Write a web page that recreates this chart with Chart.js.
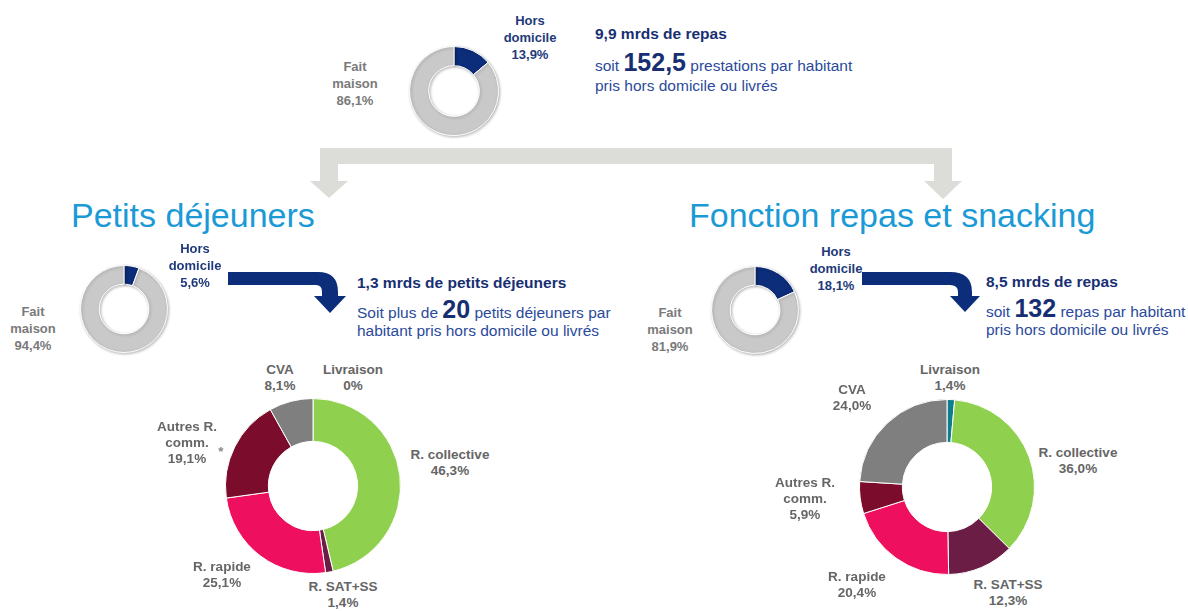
<!DOCTYPE html>
<html lang="fr">
<head>
<meta charset="utf-8">
<title>Repas hors domicile</title>
<script src="https://cdn.jsdelivr.net/npm/chart.js@4.4.0/dist/chart.umd.min.js"></script>
<style>
  body { margin: 0; background: #fff; font-family: "Liberation Sans", Arial, sans-serif; }
  #page { position: relative; width: 1188px; height: 611px; overflow: hidden; background: #fff; }
  #page canvas { position: absolute; }
  svg { position: absolute; left: 0; top: 0; }
  .lbl { position: absolute; transform: translateX(-50%); text-align: center; font-weight: bold; white-space: nowrap; }
  .small { font-size: 13px; line-height: 17px; }
  .seg { font-size: 13.5px; line-height: 16px; }
  .title { position: absolute; font-size: 34px; line-height: 36px; color: #1b9ad6; white-space: nowrap; }
  .txt { position: absolute; font-size: 15.5px; color: #2b4a9b; white-space: nowrap; }
  .txt b { color: #172f72; }
  .big { font-size: 25px; font-weight: bold; color: #172f72; }
</style>
</head>
<body>
<div id="page">
  <svg width="1188" height="611">
    <path d="M320 148 L952 148 L952 181 L962 181 L943 199 L924 181 L934 181 L934 164 L338 164 L338 181 L348 181 L329 198 L310 181 L320 181 Z" fill="#dcdcd8"/>
    <path d="M228 272 L318 272 Q338 272 338 292 L338 296 L346 296 L330 313 L314 296 L322 296 L322 292 Q322 285 316 285 L228 285 Z" fill="#0c2d7a"/>
    <path d="M862 272 L950 272 Q972 272 972 292 L972 296 L980 296 L965 312 L950 296 L958 296 L958 292 Q958 285 950 285 L862 285 Z" fill="#0c2d7a"/>
  </svg>
  <div class="title" style="left:71px; top:197px;">Petits déjeuners</div>
  <div class="title" style="left:689px; top:197px;">Fonction repas et snacking</div>

  <div class="txt" style="left:595px; top:24px; line-height:20px;"><b>9,9 mrds de repas</b></div>
  <div class="txt" style="left:595px; top:47px; line-height:30px;">soit <span class="big">152,5</span> prestations par habitant</div>
  <div class="txt" style="left:595px; top:76px; line-height:20px;">pris hors domicile ou livrés</div>

  <div class="txt" style="left:357px; top:273px; line-height:20px;"><b>1,3 mrds de petits déjeuners</b></div>
  <div class="txt" style="left:357px; top:294px; line-height:30px;">Soit plus de <span class="big">20</span> petits déjeuners par</div>
  <div class="txt" style="left:357px; top:321px; line-height:20px;">habitant pris hors domicile ou livrés</div>

  <div class="txt" style="left:986px; top:272px; line-height:20px;"><b>8,5 mrds de repas</b></div>
  <div class="txt" style="left:986px; top:293px; line-height:30px;">soit <span class="big">132</span> repas par habitant</div>
  <div class="txt" style="left:986px; top:320px; line-height:20px;">pris hors domicile ou livrés</div>
</div>
<script>
// Répartition fait maison / hors domicile
const splitLabels = ['Hors domicile', 'Fait maison'];
const totalValues = [13.9, 86.1];
const petitDejValues = [5.6, 94.4];
const repasValues = [18.1, 81.9];

// Circuits de restauration hors domicile
const circuits = ['Livraison', 'R. collective', 'R. SAT+SS', 'R. rapide', 'Autres R. comm.', 'CVA'];
const circuitLines = [['Livraison'], ['R. collective'], ['R. SAT+SS'], ['R. rapide'], ['Autres R.', 'comm.'], ['CVA']];
const petitDejCircuits = [0, 46.3, 1.4, 25.1, 19.1, 8.1];
const repasCircuits = [1.4, 36.0, 12.3, 20.4, 5.9, 24.0];

const splitColors = ['#0c2d7a', '#c9c9c9'];
const splitTextColors = ['#1f3a7a', '#7a7a7a'];
const circuitColors = ['#0f7e8c', '#8fd14f', '#6b1d45', '#ef0f5f', '#7b0c2c', '#7f7f7f'];

const page = document.getElementById('page');

// petite ombre sous les anneaux gris
const shade = {
    id: 'shade',
    beforeDatasetsDraw(chart) {
        const c = chart.ctx;
        c.save();
        c.shadowColor = 'rgba(0,0,0,0.28)';
        c.shadowBlur = 3;
        c.shadowOffsetX = 1;
        c.shadowOffsetY = 1;
    },
    afterDatasetsDraw(chart) {
        chart.ctx.restore();
    }
};

function pct(v) {
    return v === 0 ? '0%' : v.toFixed(1).replace('.', ',') + '%';
}

function donut(cx, cy, r, cutout, labels, values, colors, pad, plugins) {
    const size = 2 * r + 2 + 2 * pad;
    const canvas = document.createElement('canvas');
    canvas.width = size;
    canvas.height = size;
    canvas.style.left = (cx - size / 2) + 'px';
    canvas.style.top = (cy - size / 2) + 'px';
    page.insertBefore(canvas, page.children[1]);
    new Chart(canvas.getContext('2d'), {
        type: 'doughnut',
        data: {
            labels: labels,
            datasets: [{
                data: values,
                backgroundColor: colors,
                borderColor: '#ffffff',
                borderWidth: 1
            }]
        },
        options: {
            responsive: false,
            animation: false,
            cutout: cutout,
            layout: { padding: pad },
            plugins: {
                legend: { display: false },
                tooltip: { enabled: false }
            }
        },
        plugins: plugins
    });
}

function label(x, top, lines, cls, color) {
    const d = document.createElement('div');
    d.className = 'lbl ' + cls;
    d.style.left = x + 'px';
    d.style.top = top + 'px';
    d.style.color = color;
    d.innerHTML = lines.join('<br>');
    page.appendChild(d);
}

// donuts fait maison / hors domicile
donut(454, 91, 44, '57%', splitLabels, totalValues, splitColors, 3, [shade]);
donut(124, 309, 43, '57%', splitLabels, petitDejValues, splitColors, 3, [shade]);
donut(755, 310, 43, '57%', splitLabels, repasValues, splitColors, 3, [shade]);

const splitSpots = [
    [[530, 11.5], [355, 57.5]],
    [[195, 239.5], [33, 302.5]],
    [[836, 242.5], [670, 303.5]]
];
[totalValues, petitDejValues, repasValues].forEach((vals, i) => {
    splitLabels.forEach((name, j) => {
        const words = name.split(' ');
        label(splitSpots[i][j][0], splitSpots[i][j][1], [words[0], words[1], pct(vals[j])], 'small', splitTextColors[j]);
    });
});

// donuts circuits
donut(313, 486, 87, '51%', circuits, petitDejCircuits, circuitColors, 0, []);
donut(947, 487, 87, '51%', circuits, repasCircuits, circuitColors, 0, []);

const petitDejSpots = [[353, 362], [450, 447], [343, 579], [222, 559], [187, 419], [280, 362]];
const repasSpots = [[950, 362], [1078, 445], [1008, 577], [857, 569], [805, 475], [852, 382]];
circuits.forEach((c, i) => {
    label(petitDejSpots[i][0], petitDejSpots[i][1], circuitLines[i].concat(pct(petitDejCircuits[i])), 'seg', '#666666');
    label(repasSpots[i][0], repasSpots[i][1], circuitLines[i].concat(pct(repasCircuits[i])), 'seg', '#666666');
});
label(221, 444, ['*'], 'seg', '#888888');
</script>
</body>
</html>
